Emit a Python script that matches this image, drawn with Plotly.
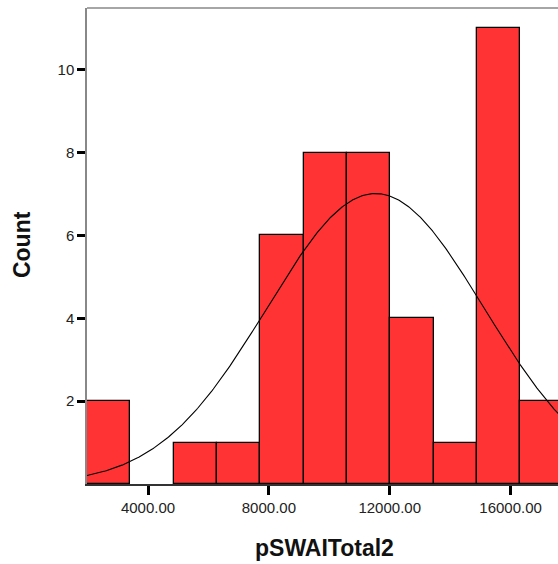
import numpy as np
import plotly.graph_objects as go

# Histogram data
bin_edges = [1980, 3414, 4848, 6282, 7716, 9150, 10584, 12018, 13452, 14886, 16320, 17754]
counts = [2, 0, 1, 1, 6, 8, 8, 4, 1, 11, 2]
# Normal curve parameters (as drawn by SPSS)
curve_mean = 11530
curve_sd = 3590
x_tickvals = [4000, 8000, 12000, 16000]
x_ticktext = ["4000.00", "8000.00", "12000.00", "16000.00"]
y_tickvals = [2, 4, 6, 8, 10]
x_title = "pSWAITotal2"
y_title = "Count"

edges = np.array(bin_edges, dtype=float)
centers = (edges[:-1] + edges[1:]) / 2
widths = np.diff(edges)
n_total = sum(counts)
bw = widths.mean()

x_range = [1980, 17570]
y_range = [0, 11.49]

xc = np.linspace(x_range[0], x_range[1] + 300, 400)
yc = n_total * bw / (curve_sd * np.sqrt(2 * np.pi)) * np.exp(-0.5 * ((xc - curve_mean) / curve_sd) ** 2)

line_w = [1.3 if c > 0 else 0 for c in counts]

fig = go.Figure()
fig.add_trace(go.Bar(
    x=centers, y=counts, width=widths,
    marker=dict(color="#FF3333", line=dict(color="black", width=line_w)),
    hoverinfo="skip",
))
fig.add_trace(go.Scatter(
    x=xc, y=yc, mode="lines",
    line=dict(color="black", width=1.1),
    hoverinfo="skip",
))

font_tick = dict(family="Liberation Sans, Arial, sans-serif", size=15, color="#222")

fig.update_layout(
    width=558, height=564,
    margin=dict(l=87, r=0, t=8, b=80),
    paper_bgcolor="white", plot_bgcolor="white",
    showlegend=False, bargap=0,
    xaxis=dict(
        range=x_range, tickvals=x_tickvals, ticktext=x_ticktext,
        ticks="outside", ticklen=9, tickwidth=3, tickcolor="black",
        showline=True, linecolor="#333", linewidth=1.5,
        showgrid=False, zeroline=False, tickfont=font_tick,
    ),
    yaxis=dict(
        range=y_range, tickvals=y_tickvals,
        ticks="outside", ticklen=8, tickwidth=3, tickcolor="black",
        showline=True, linecolor="#888", linewidth=1.5,
        showgrid=False, zeroline=False, tickfont=font_tick,
    ),
    annotations=[
        dict(text=f"<b>{x_title}</b>", xref="paper", yref="paper",
             x=0.505, y=-0.134, xanchor="center", yanchor="middle", showarrow=False,
             font=dict(family="Liberation Sans, Arial, sans-serif", size=23, color="#111")),
        dict(text=f"<b>{y_title}</b>", xref="paper", yref="paper",
             x=-0.138, y=0.502, xanchor="center", yanchor="middle", showarrow=False,
             textangle=-90,
             font=dict(family="Liberation Sans, Arial, sans-serif", size=23, color="#111")),
    ],
    shapes=[
        dict(type="line", xref="paper", yref="paper", x0=0, x1=1, y0=1, y1=1,
             line=dict(color="#888", width=1.5)),
    ],
)

fig.write_html("out.html")
